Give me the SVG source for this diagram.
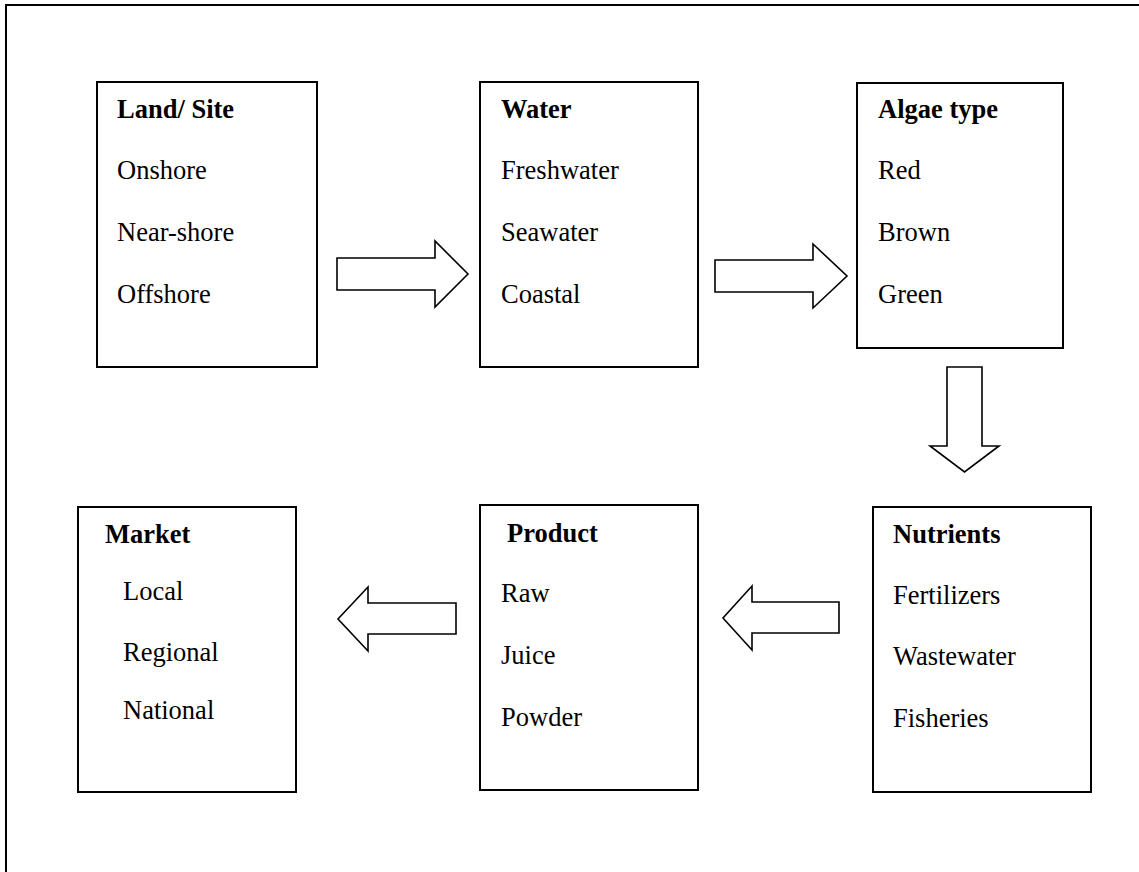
<svg xmlns="http://www.w3.org/2000/svg" width="1139" height="872" viewBox="0 0 1139 872">
  <style>
    .box { fill: #ffffff; stroke: #000000; stroke-width: 2; }
    .arrow { fill: #ffffff; stroke: #000000; stroke-width: 1.6; stroke-linejoin: miter; }
    .frame { fill: none; stroke: #000000; stroke-width: 2; }
    text { font-family: "Liberation Serif", "Times New Roman", serif; font-size: 26.5px; fill: #000000; }
    .title { font-weight: bold; }
  </style>
  <rect width="1139" height="872" fill="#ffffff"/>

  <!-- outer frame (open at right and bottom) -->
  <path class="frame" d="M6,872 V5 H1139"/>

  <g id="connectors">
    <!-- Land/Site to Water -->
    <polygon class="arrow" points="337,258 435,258 435,241 468,274 435,307 435,290 337,290"/>
    <!-- Water to Algae type -->
    <polygon class="arrow" points="715,260 813,260 813,244 847,276 813,308 813,292 715,292"/>
    <!-- Algae type to Nutrients -->
    <polygon class="arrow" points="947,367 982,367 982,446 999,446 964.5,472 930,446 947,446"/>
    <!-- Nutrients to Product -->
    <polygon class="arrow" points="839,602 839,633 752,633 752,650 723,618 752,586 752,602"/>
    <!-- Product to Market -->
    <polygon class="arrow" points="456,603 456,634 368,634 368,651 338,619 368,587 368,603"/>
  </g>

  <g id="land-site">
    <rect class="box" x="97" y="82" width="220" height="285"/>
    <text class="title" x="117" y="118">Land/ Site</text>
    <text x="117" y="179">Onshore</text>
    <text x="117" y="241">Near-shore</text>
    <text x="117" y="303">Offshore</text>
  </g>

  <g id="water">
    <rect class="box" x="480" y="82" width="218" height="285"/>
    <text class="title" x="501" y="118">Water</text>
    <text x="501" y="179">Freshwater</text>
    <text x="501" y="241">Seawater</text>
    <text x="501" y="303">Coastal</text>
  </g>

  <g id="algae-type">
    <rect class="box" x="857" y="83" width="206" height="265"/>
    <text class="title" x="878" y="118">Algae type</text>
    <text x="878" y="179">Red</text>
    <text x="878" y="241">Brown</text>
    <text x="878" y="303">Green</text>
  </g>

  <g id="nutrients">
    <rect class="box" x="873" y="507" width="218" height="285"/>
    <text class="title" x="893" y="543">Nutrients</text>
    <text x="893" y="604">Fertilizers</text>
    <text x="893" y="665">Wastewater</text>
    <text x="893" y="727">Fisheries</text>
  </g>

  <g id="product">
    <rect class="box" x="480" y="505" width="218" height="285"/>
    <text class="title" x="507" y="542">Product</text>
    <text x="501" y="602">Raw</text>
    <text x="501" y="664">Juice</text>
    <text x="501" y="726">Powder</text>
  </g>

  <g id="market">
    <rect class="box" x="78" y="507" width="218" height="285"/>
    <text class="title" x="105" y="543">Market</text>
    <text x="123" y="600">Local</text>
    <text x="123" y="661">Regional</text>
    <text x="123" y="719">National</text>
  </g>
</svg>
